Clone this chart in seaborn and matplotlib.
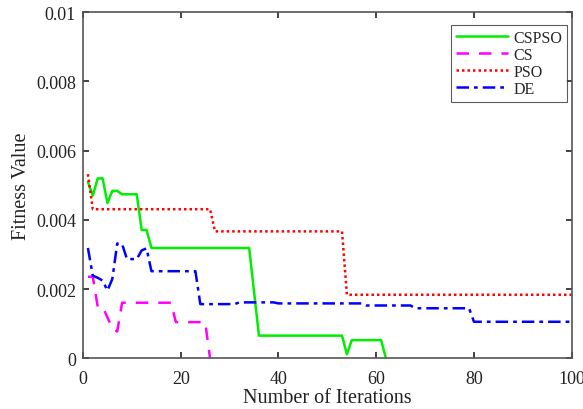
import matplotlib
matplotlib.use("Agg")

import pandas as pd
import matplotlib.pyplot as plt
import seaborn as sns

# Data (iteration, fitness) at the break points
cspso_x = [1, 2, 3, 4, 5, 6, 7, 8, 11, 12, 13, 14, 34, 36, 53, 54, 55, 61, 62]
cspso_y = [0.0051, 0.0047, 0.0052, 0.0052, 0.00449, 0.00484, 0.00484, 0.00474, 0.00474,
           0.00371, 0.00371, 0.00319, 0.00319, 0.00066, 0.00066, 0.00012, 0.00053, 0.00053, 0.0]

cs_x = [1, 2, 3, 4, 6, 7, 8, 18, 19, 25, 26]
cs_y = [0.00236, 0.00236, 0.0015, 0.0015, 0.00087, 0.00078, 0.00161, 0.00161, 0.00105, 0.00105, 0.0]

pso_x = [1, 2, 26, 27, 53, 54, 100]
pso_y = [0.00532, 0.00431, 0.00431, 0.00367, 0.00367, 0.00184, 0.00184]

de_x = [1, 2, 3, 4, 5, 6, 7, 8, 9, 11, 12, 13, 14, 23, 24, 31, 32, 39, 40, 57, 58, 67, 68, 79, 80, 100]
de_y = [0.00319, 0.00239, 0.00233, 0.00225, 0.00196, 0.0023, 0.00332, 0.0033, 0.00287, 0.00287,
        0.00312, 0.00318, 0.00252, 0.00252, 0.00157, 0.00157, 0.00162, 0.00162, 0.00159, 0.00159,
        0.00153, 0.00153, 0.00145, 0.00145, 0.00106, 0.00106]

series = [
    ('CSPSO', cspso_x, cspso_y, '#00ee00', '-'),
    ('CS', cs_x, cs_y, '#ff00ff', (0, (5, 4))),
    ('PSO', pso_x, pso_y, '#ff0000', (0, (1, 1.2))),
    ('DE', de_x, de_y, '#0000ff', (0, (5, 2, 1.5, 2))),
]

yticks = [0, 0.002, 0.004, 0.006, 0.008, 0.01]
ytick_labels = ['0', '0.002', '0.004', '0.006', '0.008', '0.01']
xticks = [0, 20, 40, 60, 80, 100]

sns.set_style("ticks")
plt.rcParams['font.family'] = ['Liberation Serif', 'DejaVu Serif']

fig = plt.figure(figsize=(5.83, 4.10), dpi=100)
ax = fig.add_axes([0.1424, 0.1232, 0.8382, 0.8448])

for name, xs, ys, col, ls in series:
    df = pd.DataFrame({'Iteration': xs, 'Fitness': ys})
    sns.lineplot(data=df, x='Iteration', y='Fitness', ax=ax, color=col,
                 linestyle=ls, linewidth=1.8, label=name)

ax.set_xlim(0, 100)
ax.set_ylim(0, 0.01)
ax.set_xticks(xticks)
ax.set_yticks(yticks)
ax.set_yticklabels(ytick_labels)
ax.tick_params(direction='in', top=True, right=True, labelsize=13, length=4,
               width=1.2, colors='#222222', labelcolor='#222222')
ax.tick_params(axis='x', pad=8)
ax.tick_params(axis='y', pad=5)
for sp in ax.spines.values():
    sp.set_visible(True)
    sp.set_color('#555555')
    sp.set_linewidth(1.2)

ax.set_xlabel('Number of Iterations', fontsize=14.5, color='#222222', labelpad=1)
ax.set_ylabel('Fitness Value', fontsize=14.5, color='#222222', labelpad=4)

leg = ax.legend(loc='upper right', bbox_to_anchor=(0.99, 0.9625), fontsize=11.5,
                frameon=True, fancybox=False, handlelength=3.3, labelspacing=0.06,
                borderpad=0.3, handletextpad=0.3, borderaxespad=0)
leg.get_frame().set_edgecolor('#333333')
leg.get_frame().set_linewidth(0.8)

fig.savefig('out.png', dpi=100)
